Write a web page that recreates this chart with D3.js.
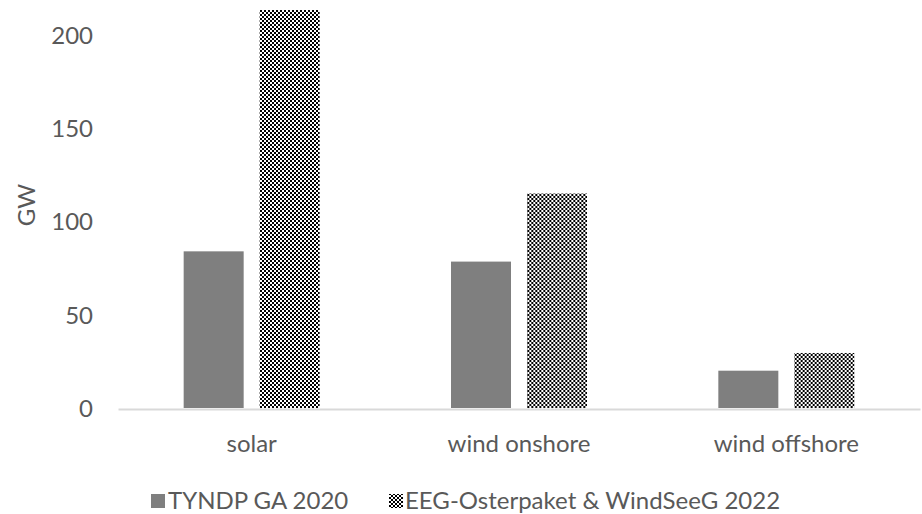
<!DOCTYPE html>
<html>
<head>
<meta charset="utf-8">
<script src="https://cdn.jsdelivr.net/npm/d3@7"></script>
<style>
  body { margin: 0; background: #fff; }
  svg { display: block; }
  svg text { font-family: Lato, "Open Sans", sans-serif; fill: #595959; }
</style>
</head>
<body>
<div id="chart"></div>
<script>
const categories = ["solar", "wind onshore", "wind offshore"];
const seriesKeys = ["TYNDP GA 2020", "EEG-Osterpaket & WindSeeG 2022"];
const tyndp = [84, 78.5, 20];
const eeg = [215, 115, 29.5];
const yTicks = [0, 50, 100, 150, 200];

const width = 922;
const height = 514;
const marginTop = 10;
const marginLeft = 118;
const marginRight = 2;
const zeroY = 408;
const fontSize = 24;

const data = categories.map((c, i) => ({
  category: c,
  values: [tyndp[i], eeg[i]],
}));

const svg = d3
  .select("#chart")
  .append("svg")
  .attr("width", width)
  .attr("height", height);

const defs = svg.append("defs");
const pattern = defs
  .append("pattern")
  .attr("id", "checker")
  .attr("patternUnits", "userSpaceOnUse")
  .attr("width", 4)
  .attr("height", 4);
pattern.append("rect").attr("width", 4).attr("height", 4).attr("fill", "#fff");
pattern.append("rect").attr("width", 2).attr("height", 2).attr("fill", "#000");
pattern.append("rect").attr("x", 2).attr("y", 2).attr("width", 2).attr("height", 2).attr("fill", "#000");

defs
  .append("clipPath")
  .attr("id", "plot-clip")
  .append("rect")
  .attr("x", marginLeft)
  .attr("y", marginTop)
  .attr("width", width - marginLeft - marginRight)
  .attr("height", zeroY - marginTop);

const fills = ["#7f7f7f", "url(#checker)"];

const x0 = d3
  .scaleBand()
  .domain(categories)
  .range([marginLeft, width - marginRight])
  .padding(0);

// two bars of 60px with a 16px gap, centred in each band
const x1 = d3
  .scaleBand()
  .domain(seriesKeys)
  .range([x0.bandwidth() / 2 - 68, x0.bandwidth() / 2 + 68])
  .paddingInner(0.2105);

// 200 sits at y = 35
const y = d3.scaleLinear().domain([0, 200]).range([zeroY, 35]);

// y axis labels
const gY = svg
  .append("g")
  .attr("transform", `translate(93,0)`)
  .call(d3.axisLeft(y).tickValues(yTicks).tickSize(0).tickPadding(0))
  .call((g) => g.select(".domain").remove())
  .attr("font-family", null);
gY.selectAll("text").attr("font-size", fontSize).attr("dy", "0.35em");

svg
  .append("text")
  .attr("transform", `translate(35,205) rotate(-90)`)
  .attr("text-anchor", "middle")
  .attr("font-size", fontSize)
  .text("GW");

// bars
svg
  .append("g")
  .attr("clip-path", "url(#plot-clip)")
  .selectAll("g")
  .data(data)
  .join("g")
  .attr("transform", (d) => `translate(${x0(d.category)},0)`)
  .selectAll("rect")
  .data((d) => d.values.map((v, i) => ({ key: seriesKeys[i], value: v, i })))
  .join("rect")
  .attr("x", (d) => x1(d.key))
  .attr("y", (d) => y(d.value))
  .attr("width", x1.bandwidth())
  .attr("height", (d) => y(0) - y(d.value))
  .attr("fill", (d) => fills[d.i]);

// x axis
const gX = svg
  .append("g")
  .attr("transform", `translate(0,${zeroY + 1})`)
  .call(d3.axisBottom(x0).tickSize(0).tickPadding(26))
  .attr("font-family", null);
gX.select(".domain").attr("stroke", "#d9d9d9").attr("stroke-width", 2);
gX.selectAll("text").attr("font-size", fontSize);

// legend
const legend = svg.append("g").attr("transform", "translate(0,509)");
const legendX = [151, 389];
seriesKeys.forEach((k, i) => {
  const item = legend.append("g").attr("transform", `translate(${legendX[i]},0)`);
  item
    .append("rect")
    .attr("y", -15)
    .attr("width", 14)
    .attr("height", 14)
    .attr("fill", fills[i]);
  item
    .append("text")
    .attr("x", i === 0 ? 17 : 16)
    .attr("font-size", fontSize)
    .text(k);
});
</script>
</body>
</html>
